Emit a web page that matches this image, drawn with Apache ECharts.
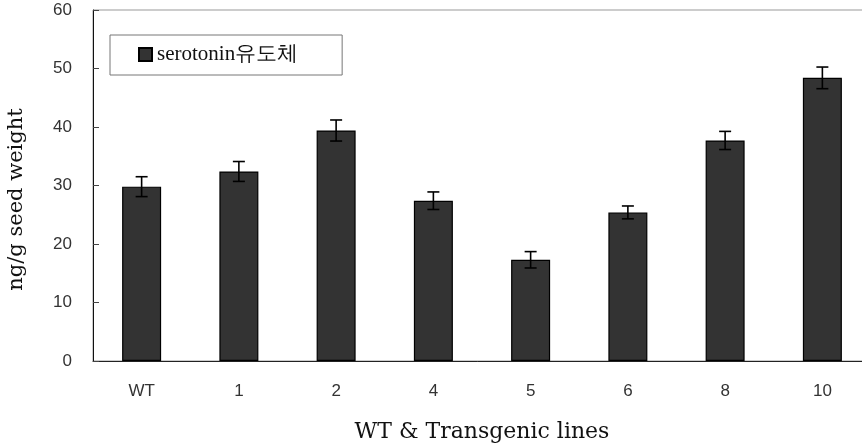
<!DOCTYPE html>
<html><head><meta charset="utf-8">
<script src="https://cdn.jsdelivr.net/npm/echarts@6/dist/echarts.min.js"></script>
<style>html,body{margin:0;padding:0;background:#fff}#c{width:862px;height:446px}</style>
</head><body><div id="c"></div>
<script>
const categories = ['WT','1','2','4','5','6','8','10'];
const values = [29.8, 32.4, 39.4, 27.4, 17.3, 25.4, 37.7, 48.4];
const errors = [1.7, 1.7, 1.8, 1.5, 1.4, 1.1, 1.55, 1.85];
const yTicks = [0,10,20,30,40,50,60];
const seriesName = 'serotonin유도체';

const chart = echarts.init(document.getElementById('c'));
const errData = values.map((v,i)=>[i, v-errors[i], v+errors[i]]);
chart.setOption({
  animation:false,
  grid:{left:93, top:10, width:778, height:351, outerBoundsMode:'none', containLabel:false,
        show:true, borderColor:'#999', borderWidth:1, backgroundColor:'transparent'},
  legend:{
    data:[{name:seriesName, icon:'rect'}],
    left:110, top:35,
    padding:[9,44,10,28],
    borderColor:'#777', borderWidth:1,
    itemWidth:13, itemHeight:13, itemGap:11,
    textStyle:{fontFamily:'Liberation Serif', fontSize:21, color:'#111'}
  },
  xAxis:{
    type:'category', data:categories,
    axisLine:{lineStyle:{color:'#222', width:1}},
    axisTick:{inside:true, length:5, lineStyle:{color:'#444'}},
    axisLabel:{margin:22, fontFamily:'Liberation Sans', fontSize:17, color:'#333'},
    name:'WT & Transgenic lines', nameLocation:'middle', nameGap:60,
    nameTextStyle:{fontFamily:'DejaVu Serif', fontSize:22, color:'#111'}
  },
  yAxis:{
    type:'value', min:0, max:60, interval:10,
    axisLine:{show:true, lineStyle:{color:'#111', width:1}},
    axisTick:{show:true, inside:true, length:6, lineStyle:{color:'#444'}},
    splitLine:{show:false},
    axisLabel:{margin:21, fontFamily:'Liberation Sans', fontSize:17, color:'#333',
      formatter:v=>yTicks.includes(v)?String(v):''},
    name:'ng/g seed weight', nameLocation:'middle', nameGap:66,
    nameTextStyle:{fontFamily:'DejaVu Serif', fontSize:21, color:'#111', padding:[0,28,0,0]}
  },
  series:[
    {name:seriesName, type:'bar', data:values, barWidth:39,
     itemStyle:{color:'#333333', borderColor:'#000', borderWidth:1.2}},
    {type:'custom', data:errData, z:10, silent:true,
     renderItem:function(params, api){
       const x = api.coord([api.value(0), 0])[0];
       const lo = api.coord([api.value(0), api.value(1)])[1];
       const hi = api.coord([api.value(0), api.value(2)])[1];
       const hw = 6;
       const st = {stroke:'#000', lineWidth:1.6};
       return {type:'group', children:[
         {type:'line', shape:{x1:x,y1:lo,x2:x,y2:hi}, style:st},
         {type:'line', shape:{x1:x-hw,y1:lo,x2:x+hw,y2:lo}, style:st},
         {type:'line', shape:{x1:x-hw,y1:hi,x2:x+hw,y2:hi}, style:st}
       ]};
     }}
  ]
});
</script></body></html>
